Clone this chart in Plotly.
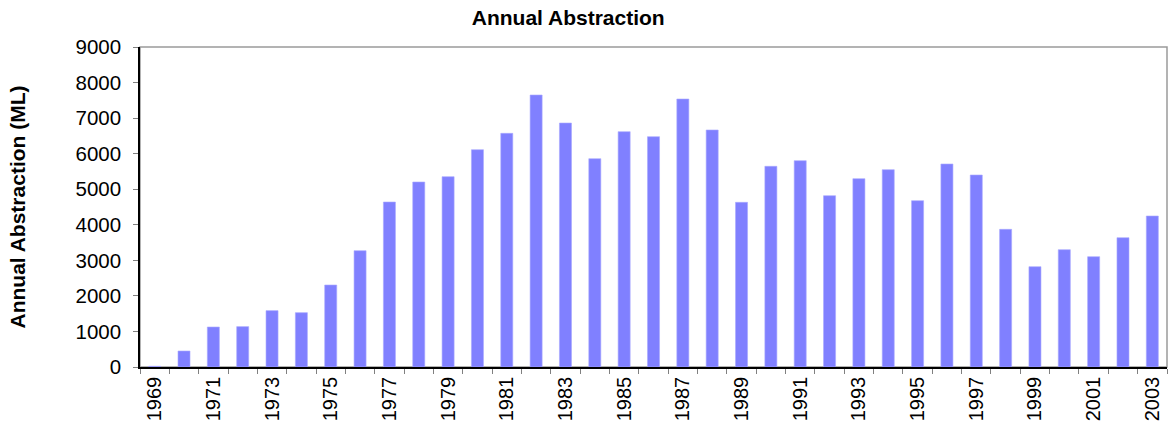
import plotly.graph_objects as go

# Annual abstraction volumes (ML) by year
years = list(range(1969, 2004))
abstraction_ml = [
    20, 450, 1125, 1135, 1585, 1528, 2306, 3272, 4640, 5203,
    5353, 6112, 6572, 7650, 6862, 5859, 6619, 6478, 7537, 6666,
    4631, 5644, 5803, 4819, 5297, 5550, 4678, 5709, 5400, 3872,
    2822, 3300, 3103, 3637, 4247,
]
y_ticks = list(range(0, 9001, 1000))

categories = [str(y) for y in years]
tick_text = [str(y) if (y - years[0]) % 2 == 0 else "" for y in years]

fig = go.Figure(
    go.Bar(
        x=categories,
        y=abstraction_ml,
        marker=dict(color="#8080FF", line=dict(color="#A8A8FF", width=0.6)),
        hoverinfo="x+y",
    )
)

font_family = "Liberation Sans, Arial, sans-serif"

fig.update_layout(
    width=1174,
    height=432,
    margin=dict(l=140, r=7, t=47, b=65),
    paper_bgcolor="white",
    plot_bgcolor="white",
    bargap=0.59,
    showlegend=False,
    font=dict(family=font_family, color="black", size=20),
    title=dict(
        text="<b>Annual Abstraction</b>",
        font=dict(size=21, family=font_family, color="black"),
        x=0.484,
        xanchor="center",
        xref="container",
        y=0.958,
        yanchor="middle",
        yref="container",
    ),
    shapes=[
        dict(
            type="rect", xref="paper", yref="paper",
            x0=0, x1=1, y0=0, y1=1,
            line=dict(color="#9a9a9a", width=1.5),
            layer="below",
        )
    ],
)

fig.update_xaxes(
    type="category",
    tickmode="array",
    tickvals=categories,
    ticktext=tick_text,
    tickson="boundaries",
    ticks="outside",
    ticklen=5,
    tickcolor="#808080",
    tickangle=-90,
    tickfont=dict(size=20),
    showline=True,
    linecolor="black",
    linewidth=1.5,
    showgrid=False,
    zeroline=False,
)

fig.update_yaxes(
    range=[0, 9000],
    tickmode="array",
    tickvals=y_ticks,
    ticks="outside",
    ticklen=5,
    tickcolor="#808080",
    tickfont=dict(size=20.5),
    ticklabelstandoff=8,
    showline=True,
    linecolor="black",
    linewidth=1.5,
    showgrid=False,
    zeroline=False,
    title=dict(
        text="<b>Annual Abstraction (ML)</b>",
        font=dict(size=21, family=font_family),
        standoff=44,
    ),
)

fig.write_html("out.html")
